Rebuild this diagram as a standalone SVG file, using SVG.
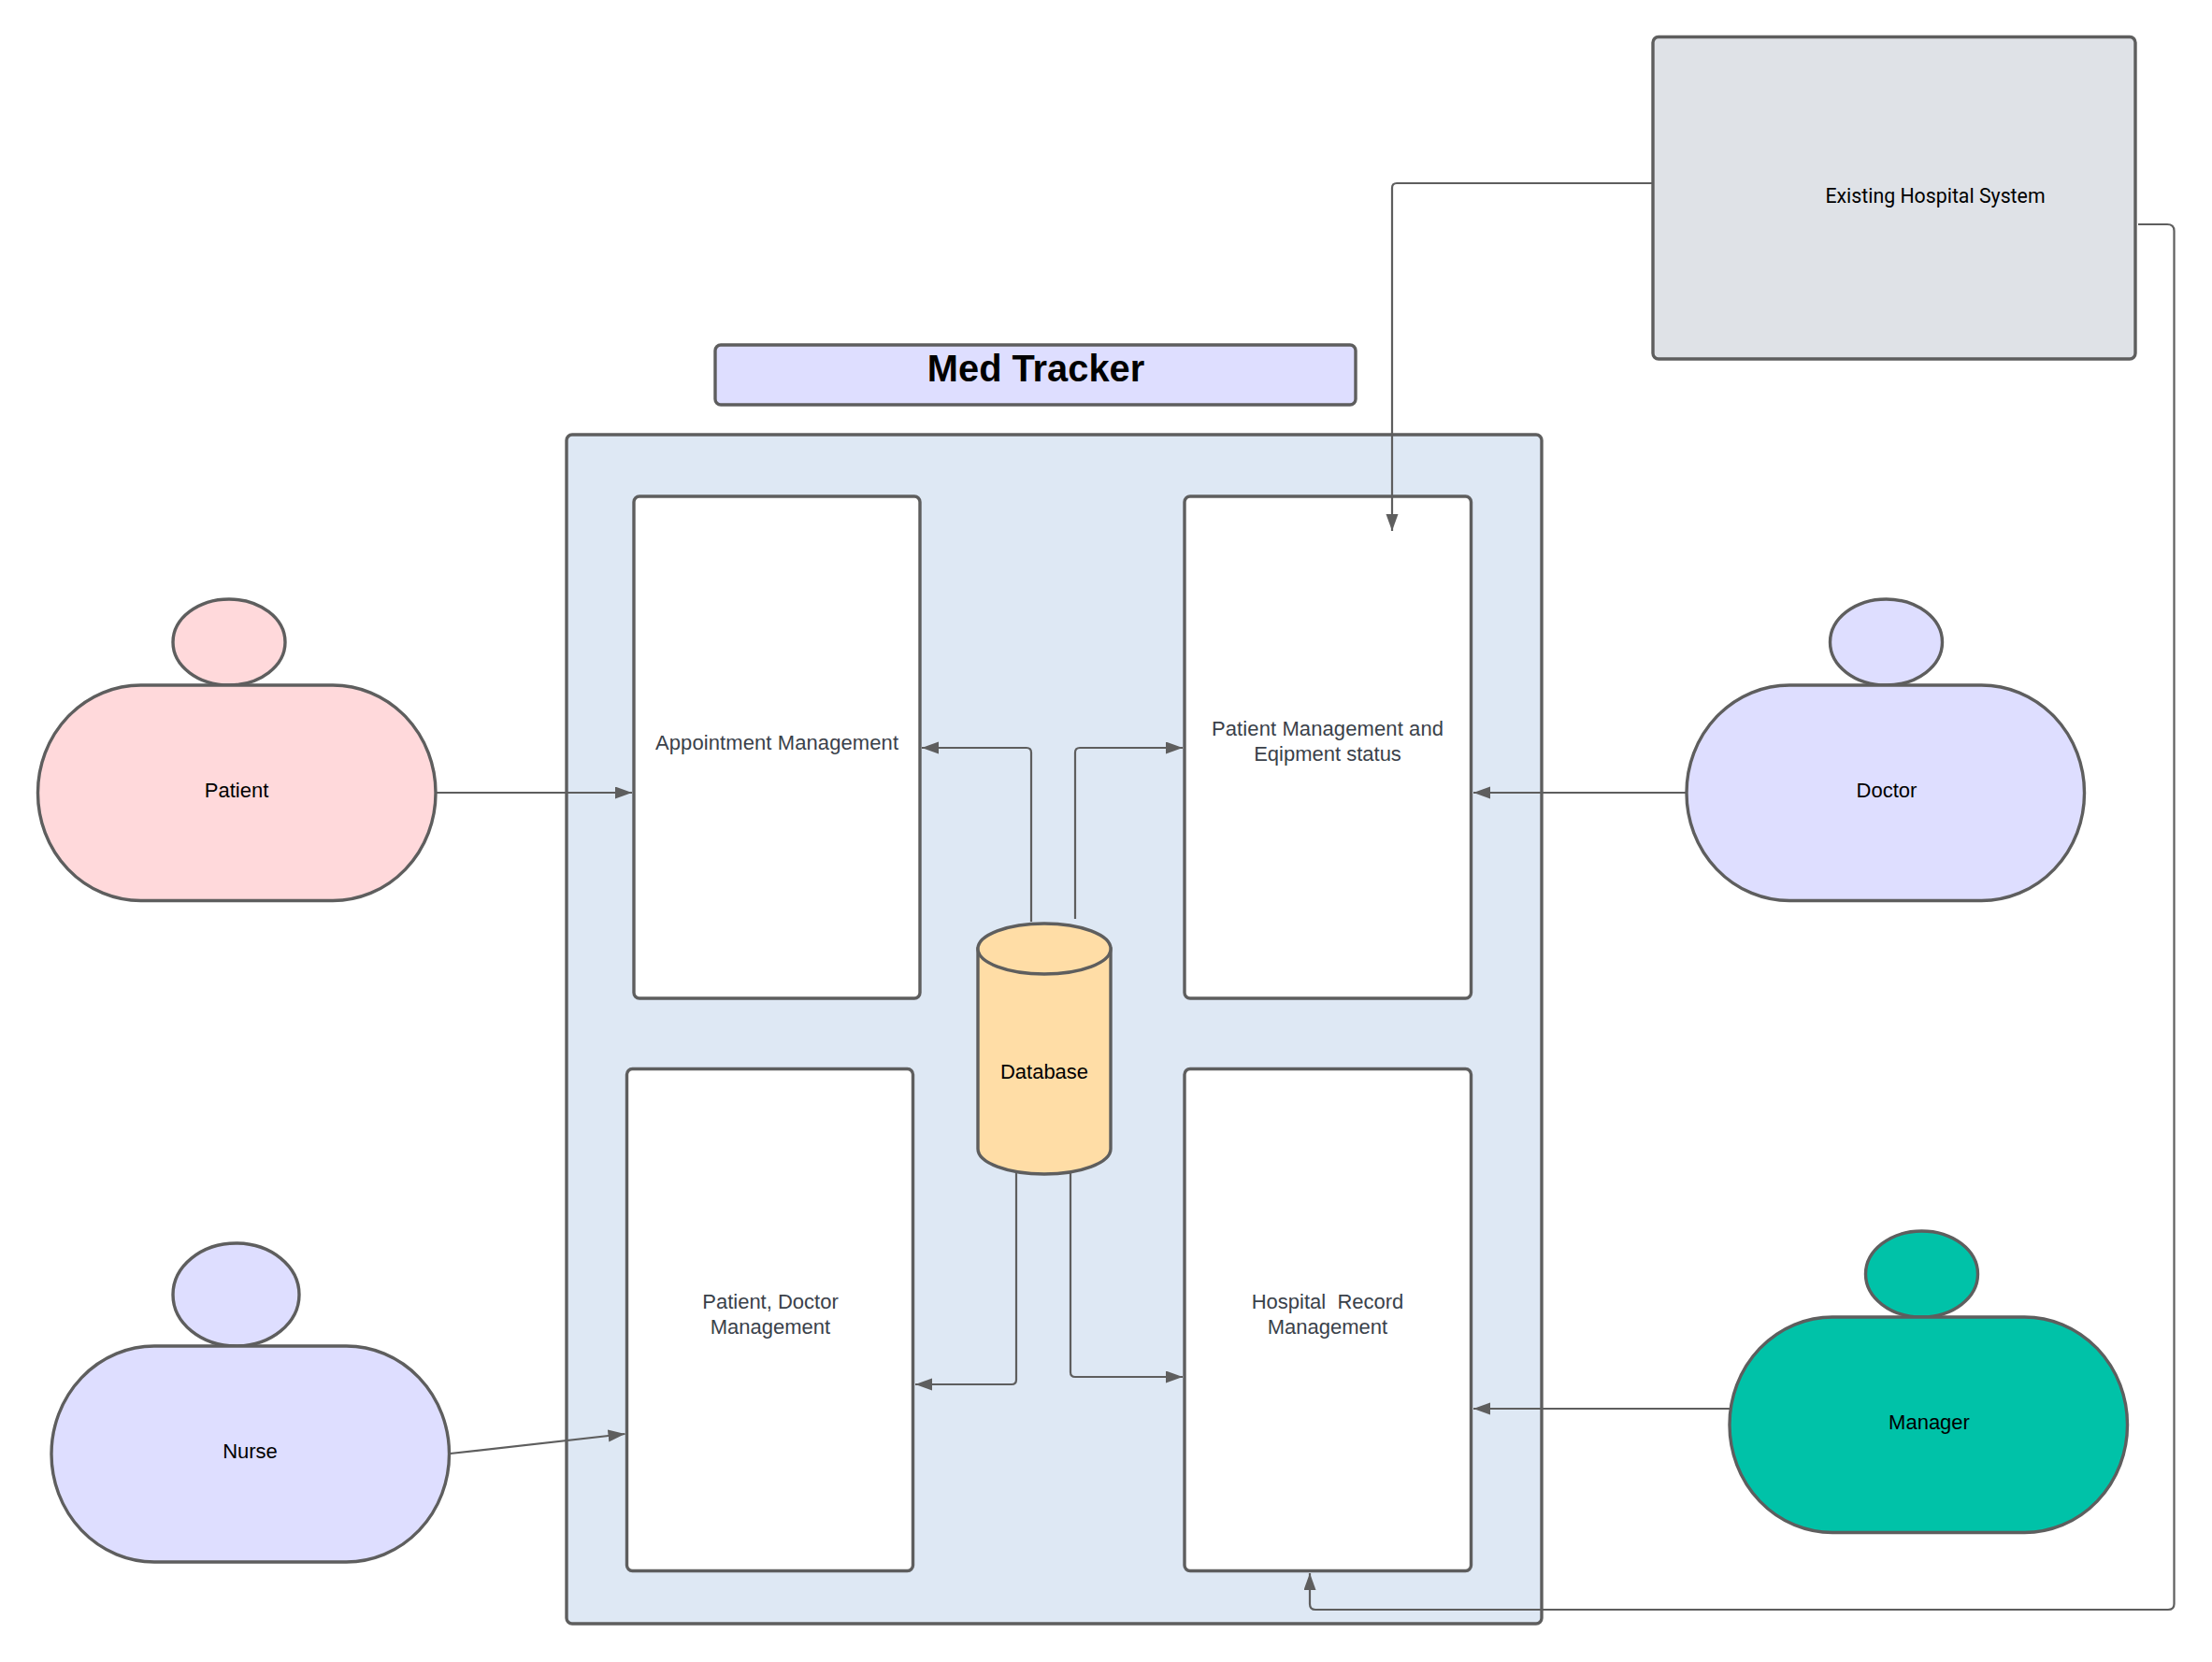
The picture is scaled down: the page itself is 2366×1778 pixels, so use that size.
<svg xmlns="http://www.w3.org/2000/svg" width="2366" height="1778" viewBox="0 0 2366 1778">
<style>
.n{stroke:#5e5e5e;stroke-width:3.4}
.c{fill:none;stroke:#5e5e5e;stroke-width:2.2}
.t{font-family:"Liberation Sans",Arial,sans-serif;font-size:22px;text-anchor:middle;fill:#000}
.d{fill:#3a414a}
.w{fill:#fff}
.lav{fill:#dedeff}
.pink{fill:#ffd9db}
.teal{fill:#00c2a8}
</style>
<defs>
<marker id="a" markerUnits="userSpaceOnUse" markerWidth="19" markerHeight="14" refX="18" refY="6.5" orient="auto"><path d="M0 0L18 6.5L0 13Z" fill="#5e5e5e"/></marker>
</defs>
<rect width="2366" height="1778" fill="#fff"/>
<g id="system"><rect class="n" x="606" y="465" width="1043" height="1272" rx="6" fill="#dee8f4"/></g>
<g id="title"><rect class="n lav" x="765" y="369" width="685" height="64" rx="6"/><text class="t" x="1108" y="408" style="font-size:39.8px;font-weight:bold">Med Tracker</text></g>
<g id="appointment"><rect class="n w" x="678" y="531" width="306" height="537" rx="6"/><text class="t d" x="831" y="802" textLength="260">Appointment Management</text></g>
<g id="patient-mgmt"><rect class="n w" x="1267" y="531" width="306.500" height="537" rx="6"/><text class="t d" x="1420" y="787" textLength="248">Patient Management and</text><text class="t d" x="1420" y="814">Eqipment status</text></g>
<g id="people-mgmt"><rect class="n w" x="670.500" y="1143.500" width="306" height="537" rx="6"/><text class="t d" x="824" y="1399.500">Patient, Doctor</text><text class="t d" x="824" y="1426.500">Management</text></g>
<g id="record-mgmt"><rect class="n w" x="1267" y="1143.500" width="306.500" height="537" rx="6"/><text class="t d" x="1420" y="1399.500" xml:space="preserve">Hospital  Record</text><text class="t d" x="1420" y="1426.500">Management</text></g>
<g id="database"><path class="n" fill="#ffdda6" d="M1046 1015V1229C1046 1244 1078 1256 1117 1256S1188 1244 1188 1229V1015Z"/><ellipse class="n" fill="#ffdda6" cx="1117" cy="1015" rx="71" ry="27"/><text class="t" x="1117" y="1154">Database</text></g>
<g id="existing"><rect class="n" fill="#dfe2e7" x="1768" y="39.500" width="516" height="344.500" rx="6"/><text x="2070" y="217" text-anchor="middle" font-family="Roboto,sans-serif" font-size="21.3" fill="#000">Existing Hospital System</text></g>
<g id="patient"><ellipse class="n pink" cx="245" cy="687" rx="60" ry="46"/><rect class="n pink" x="40.500" y="733" width="425.500" height="230.500" rx="110" ry="115"/><text class="t" x="253" y="853">Patient</text></g>
<g id="doctor"><ellipse class="n lav" cx="2017.500" cy="687" rx="60" ry="46"/><rect class="n lav" x="1804" y="733" width="425.500" height="230.500" rx="110" ry="115"/><text class="t" x="2018" y="853">Doctor</text></g>
<g id="nurse"><ellipse class="n lav" cx="252.500" cy="1385" rx="67.500" ry="55"/><rect class="n lav" x="55" y="1440" width="425.500" height="231" rx="110" ry="115.500"/><text class="t" x="267.500" y="1560">Nurse</text></g>
<g id="manager"><ellipse class="n teal" cx="2055.500" cy="1363" rx="60" ry="46"/><rect class="n teal" x="1850" y="1409" width="425.500" height="230.500" rx="110" ry="115"/><text class="t" x="2063.500" y="1529">Manager</text></g>
<g id="connectors">
<path class="c" marker-end="url(#a)" d="M467 848H676"/>
<path class="c" marker-end="url(#a)" d="M1803 848H1576"/>
<path class="c" marker-end="url(#a)" d="M481.500 1555L668.500 1534"/>
<path class="c" marker-end="url(#a)" d="M1850 1507H1576"/>
<path class="c" marker-end="url(#a)" d="M1103 986V805Q1103 800 1098 800H986"/>
<path class="c" marker-end="url(#a)" d="M1150 983V805Q1150 800 1155 800H1265"/>
<path class="c" marker-end="url(#a)" d="M1087 1255V1476Q1087 1481 1082 1481H979"/>
<path class="c" marker-end="url(#a)" d="M1145 1255V1468Q1145 1473 1150 1473H1265"/>
<path class="c" marker-end="url(#a)" d="M1768 196H1494Q1489 196 1489 201V568"/>
<path class="c" marker-end="url(#a)" d="M2287 240H2318Q2325.500 240 2325.500 247V1716Q2325.500 1722 2319 1722H1407Q1401 1722 1401 1716V1683"/>
</g>
</svg>
